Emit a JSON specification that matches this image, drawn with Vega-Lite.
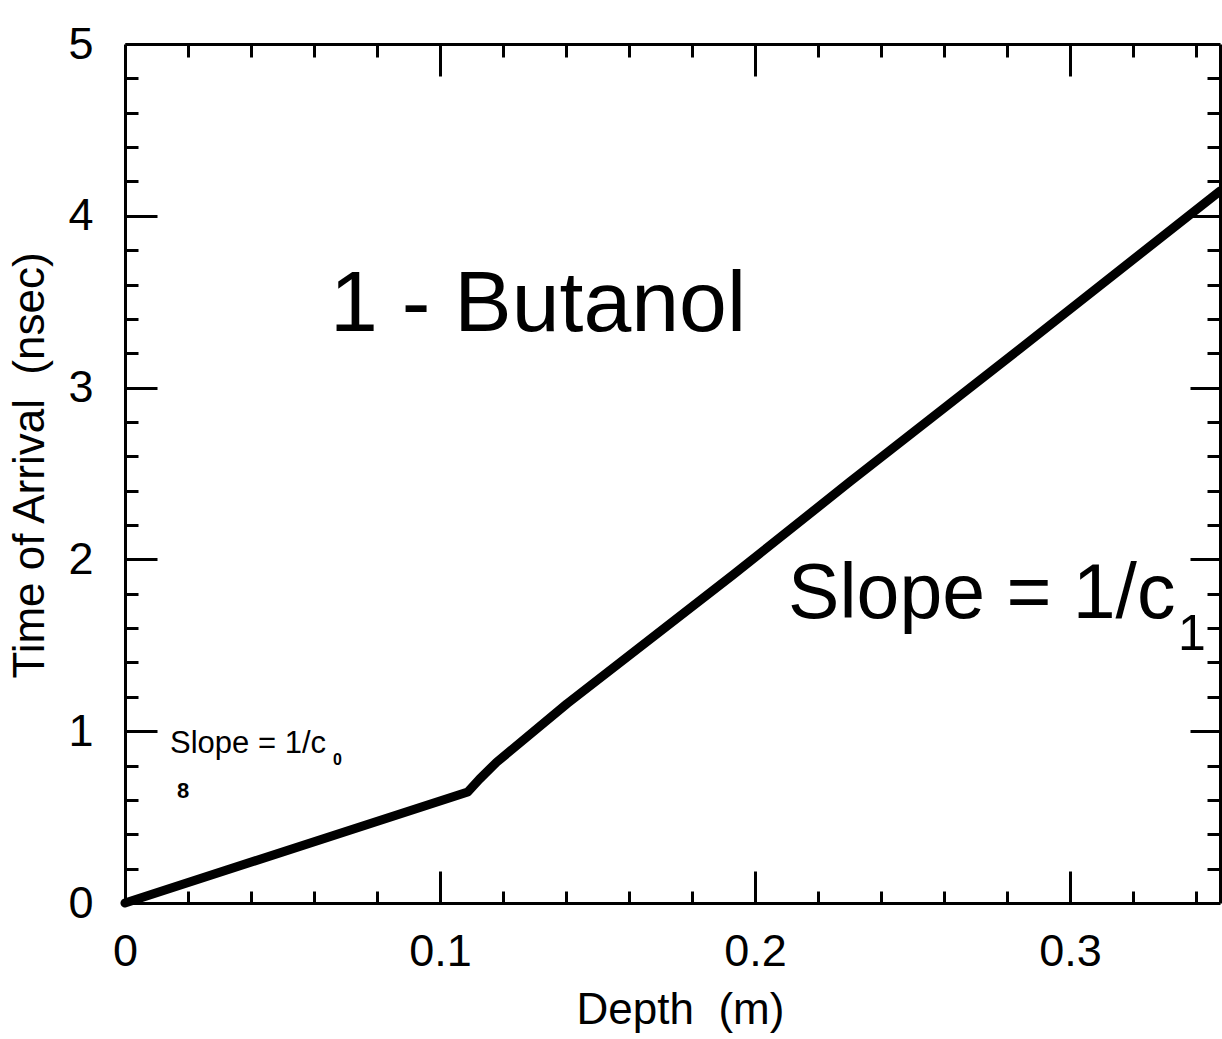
{
  "$schema": "https://vega.github.io/schema/vega-lite/v6.json",
  "autosize": "none",
  "width": 1095,
  "height": 859,
  "padding": {"left": 125, "top": 44, "right": 2, "bottom": 136},
  "background": "white",
  "config": {
    "view": {"stroke": null},
    "font": "Liberation Sans",
    "axis": {
      "domainColor": "black",
      "domainWidth": 3,
      "tickColor": "black",
      "tickWidth": 3,
      "labelColor": "black",
      "labelFont": "Liberation Sans",
      "labelFontSize": 45,
      "labelFlush": false,
      "labelOverlap": false,
      "labelBound": false,
      "titleFont": "Liberation Sans",
      "titleFontSize": 44,
      "titleFontWeight": "normal",
      "titleColor": "black",
      "grid": false
    }
  },
  "datasets": {
    "curve": [
      {"depth": 0, "time": 0},
      {"depth": 0.1088, "time": 0.646},
      {"depth": 0.1125, "time": 0.72},
      {"depth": 0.118, "time": 0.82},
      {"depth": 0.1403, "time": 1.16},
      {"depth": 0.193, "time": 1.91},
      {"depth": 0.23, "time": 2.45},
      {"depth": 0.284, "time": 3.225},
      {"depth": 0.3476, "time": 4.144}
    ],
    "anchor": [{"n": 1}]
  },
  "resolve": {"axis": {"x": "independent", "y": "independent"}},
  "layer": [
    {
      "data": {"name": "curve"},
      "mark": {"type": "line", "color": "black", "strokeWidth": 9, "strokeJoin": "round", "strokeCap": "round"},
      "encoding": {
        "x": {
          "field": "depth", "type": "quantitative",
          "scale": {"domain": [0, 0.3476], "nice": false, "zero": false},
          "axis": {
            "orient": "bottom",
            "values": [0, 0.02, 0.04, 0.06, 0.08, 0.1, 0.12, 0.14, 0.16, 0.18, 0.2, 0.22, 0.24, 0.26, 0.28, 0.3, 0.32, 0.34],
            "tickSize": {"condition": {"test": "abs(datum.value*10 - round(datum.value*10)) < 0.001", "value": -32}, "value": -12},
            "labelPadding": 58,
            "labelExpr": "abs(datum.value*10 - round(datum.value*10)) < 0.001 ? format(datum.value, '~g') : ''",
            "title": "Depth\u00a0 (m)",
            "titleX": 555,
            "titleY": 120,
            "titleAlign": "center",
            "titleBaseline": "alphabetic"
          }
        },
        "y": {
          "field": "time", "type": "quantitative",
          "scale": {"domain": [0, 5], "nice": false, "zero": false},
          "axis": {
            "orient": "left",
            "values": [0, 0.2, 0.4, 0.6, 0.8, 1, 1.2, 1.4, 1.6, 1.8, 2, 2.2, 2.4, 2.6, 2.8, 3, 3.2, 3.4, 3.6, 3.8, 4, 4.2, 4.4, 4.6, 4.8, 5],
            "tickSize": {"condition": {"test": "abs(datum.value - round(datum.value)) < 0.001", "value": -32}, "value": -13},
            "labelPadding": 64,
            "labelExpr": "abs(datum.value - round(datum.value)) < 0.001 ? format(datum.value, 'd') : ''",
            "title": "Time of Arrival\u00a0 (nsec)",
            "titleX": -82,
            "titleY": 421,
            "titleAngle": -90,
            "titleAlign": "center",
            "titleBaseline": "alphabetic"
          }
        }
      }
    },
    {
      "data": {"name": "curve"},
      "mark": {"type": "line", "color": "black", "strokeWidth": 9, "opacity": 0},
      "encoding": {
        "x": {
          "field": "depth", "type": "quantitative",
          "scale": {"domain": [0, 0.3476], "nice": false, "zero": false},
          "axis": {
            "orient": "top",
            "values": [0.02, 0.04, 0.06, 0.08, 0.1, 0.12, 0.14, 0.16, 0.18, 0.2, 0.22, 0.24, 0.26, 0.28, 0.3, 0.32, 0.34],
            "tickSize": {"condition": {"test": "abs(datum.value*10 - round(datum.value*10)) < 0.001", "value": -32}, "value": -13},
            "labels": false,
            "title": null
          }
        },
        "y": {
          "field": "time", "type": "quantitative",
          "scale": {"domain": [0, 5], "nice": false, "zero": false},
          "axis": {
            "orient": "right",
            "values": [0.2, 0.4, 0.6, 0.8, 1, 1.2, 1.4, 1.6, 1.8, 2, 2.2, 2.4, 2.6, 2.8, 3, 3.2, 3.4, 3.6, 3.8, 4, 4.2, 4.4, 4.6, 4.8],
            "tickSize": {"condition": {"test": "abs(datum.value - round(datum.value)) < 0.001", "value": -30}, "value": -13},
            "labels": false,
            "title": null
          }
        }
      }
    },
    {
      "data": {"name": "anchor"},
      "mark": {"type": "text", "font": "Liberation Sans", "fontSize": 86, "align": "left", "baseline": "alphabetic", "color": "black"},
      "encoding": {
        "x": {"datum": 0.0651, "type": "quantitative", "scale": {"domain": [0, 0.3476], "nice": false, "zero": false}, "axis": null},
        "y": {"datum": 3.33, "type": "quantitative", "scale": {"domain": [0, 5], "nice": false, "zero": false}, "axis": null},
        "text": {"value": "1 - Butanol"}
      }
    },
    {
      "data": {"name": "anchor"},
      "mark": {"type": "text", "font": "Liberation Sans", "fontSize": 77, "align": "left", "baseline": "alphabetic", "color": "black"},
      "encoding": {
        "x": {"datum": 0.2105, "type": "quantitative", "scale": {"domain": [0, 0.3476], "nice": false, "zero": false}, "axis": null},
        "y": {"datum": 1.659, "type": "quantitative", "scale": {"domain": [0, 5], "nice": false, "zero": false}, "axis": null},
        "text": {"value": "Slope = 1/c"}
      }
    },
    {
      "data": {"name": "anchor"},
      "mark": {"type": "text", "font": "Liberation Sans", "fontSize": 50, "align": "left", "baseline": "alphabetic", "color": "black"},
      "encoding": {
        "x": {"datum": 0.3343, "type": "quantitative", "scale": {"domain": [0, 0.3476], "nice": false, "zero": false}, "axis": null},
        "y": {"datum": 1.473, "type": "quantitative", "scale": {"domain": [0, 5], "nice": false, "zero": false}, "axis": null},
        "text": {"value": "1"}
      }
    },
    {
      "data": {"name": "anchor"},
      "mark": {"type": "text", "font": "Liberation Sans", "fontSize": 31, "align": "left", "baseline": "alphabetic", "color": "black"},
      "encoding": {
        "x": {"datum": 0.0143, "type": "quantitative", "scale": {"domain": [0, 0.3476], "nice": false, "zero": false}, "axis": null},
        "y": {"datum": 0.873, "type": "quantitative", "scale": {"domain": [0, 5], "nice": false, "zero": false}, "axis": null},
        "text": {"value": "Slope = 1/c"}
      }
    },
    {
      "data": {"name": "anchor"},
      "mark": {"type": "text", "font": "Liberation Sans", "fontSize": 16, "fontWeight": "bold", "align": "left", "baseline": "alphabetic", "color": "black"},
      "encoding": {
        "x": {"datum": 0.066, "type": "quantitative", "scale": {"domain": [0, 0.3476], "nice": false, "zero": false}, "axis": null},
        "y": {"datum": 0.803, "type": "quantitative", "scale": {"domain": [0, 5], "nice": false, "zero": false}, "axis": null},
        "text": {"value": "0"}
      }
    },
    {
      "data": {"name": "anchor"},
      "mark": {"type": "text", "font": "Liberation Sans", "fontSize": 22, "fontWeight": "bold", "align": "left", "baseline": "alphabetic", "color": "black"},
      "encoding": {
        "x": {"datum": 0.0165, "type": "quantitative", "scale": {"domain": [0, 0.3476], "nice": false, "zero": false}, "axis": null},
        "y": {"datum": 0.611, "type": "quantitative", "scale": {"domain": [0, 5], "nice": false, "zero": false}, "axis": null},
        "text": {"value": "8"}
      }
    }
  ]
}
